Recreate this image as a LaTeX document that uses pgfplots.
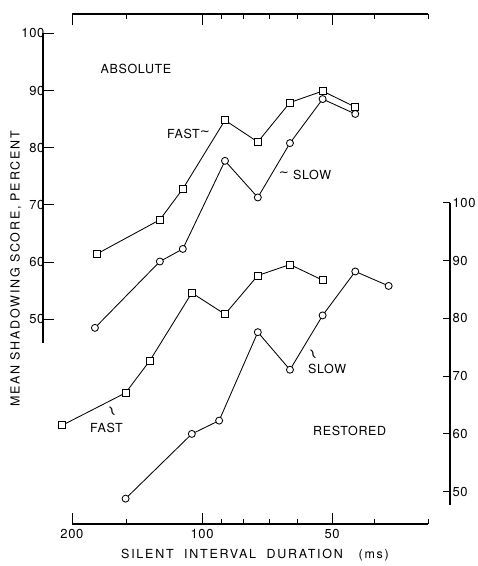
\documentclass[border=0pt]{standalone}
\usepackage{fontspec}
\setmainfont{TeX Gyre Heros}
\newfontfamily\lab[LetterSpace=5]{TeX Gyre Heros}
\newfontfamily\labw[LetterSpace=14]{TeX Gyre Heros}
\newfontfamily\djv{DejaVu Sans}
\usepackage{pgfplots}
\pgfplotsset{compat=1.18}

\pgfplotstableread{
x y
175.4 61.4
125.2 67.4
110.8 72.8
88.5 84.8
74.3 81.0
62.6 87.9
52.6 89.9
44.2 87.1
}\absfast
\pgfplotstableread{
x y
177.0 48.5
125.2 60.1
110.8 62.3
88.5 77.7
74.3 71.3
62.6 80.8
52.6 88.5
44.2 85.9
}\absslow
\pgfplotstableread{
x y
210.6 61.5
150.3 67.1
132.0 72.7
105.6 84.4
88.5 80.7
74.3 87.4
62.6 89.3
52.6 86.6
}\resfast
\pgfplotstableread{
x y
150.3 48.8
105.6 60.0
91.3 62.3
74.3 77.6
62.6 71.1
52.6 80.5
44.2 88.1
37.0 85.6
}\resslow

\pgfplotsset{
  myax/.style={scale only axis, clip=false,
    /pgf/number format/assume math mode=true,
    tick label style={font=\fontsize{13}{14}\selectfont\lab},
    axis line style={line width=1.1pt, black},
    every tick/.style={line width=0.9pt, black},
  },
  fastp/.style={black, line width=0.85pt, mark=square*, mark size=3.5pt, mark options={fill=white, line width=0.85pt, solid}},
  slowp/.style={black, line width=0.85pt, mark=*, mark size=3.5pt, mark options={fill=white, line width=0.85pt, solid}},
}

\begin{document}
\begin{tikzpicture}
\useasboundingbox (0pt,0pt) rectangle (478pt,566pt);
% frame x axis (top and bottom)
\begin{axis}[myax, at={(72pt,42pt)}, anchor=south west, width=356pt, height=510pt,
  xmode=log, x dir=reverse,
  xmin=30, xmax=200, ymin=0, ymax=1, ytick=\empty,
  axis line style={draw=none},
  xtick={200,100,50}, xticklabels={200,100,50},
  minor xtick={150,90,80,70,60,40,30},
  major tick length=11pt, minor tick length=5pt,
  tick align=inside, xtick pos=both, xticklabel pos=lower,
  xticklabel style={yshift=-2pt}]
\draw[line width=1.1pt] (rel axis cs:0,0) -- (rel axis cs:1,0);
\draw[line width=1.1pt] (rel axis cs:0,1) -- (rel axis cs:1,1);
\end{axis}

% left y axis (absolute)
\begin{axis}[myax, at={(43pt,222.7pt)}, anchor=south west, width=10pt, height=310pt,
  xmin=0, xmax=1, ymin=45.8, ymax=100,
  axis x line=none, axis y line*=left,
  ytick={50,60,...,100}, ytick align=inside, major tick length=11pt,
  yticklabel style={xshift=5pt}]
\end{axis}
% right y axis (restored)
\begin{axis}[myax, at={(440pt,61pt)}, anchor=south west, width=10pt, height=302.3pt,
  xmin=0, xmax=1, ymin=47.7, ymax=100,
  axis x line=none, axis y line*=right,
  ytick={50,60,...,100}, ytick align=inside, major tick length=7pt,
  yticklabel style={xshift=-1pt}]
\end{axis}

% absolute data
\begin{axis}[myax, hide axis, xmode=log, x dir=reverse, xmin=30, xmax=200, width=356pt,
  at={(72pt,222.7pt)}, anchor=south west, height=310pt,
  ymin=45.8, ymax=100]
\addplot[fastp] table[x=x,y=y] {\absfast};
\addplot[slowp] table[x=x,y=y] {\absslow};
\end{axis}
% restored data
\begin{axis}[myax, hide axis, xmode=log, x dir=reverse, xmin=30, xmax=200, width=356pt,
  at={(72pt,61pt)}, anchor=south west, height=302.3pt,
  ymin=47.7, ymax=100]
\addplot[fastp] table[x=x,y=y] {\resfast};
\addplot[slowp] table[x=x,y=y] {\resslow};
\end{axis}

% labels
\begin{scope}[every node/.style={font=\fontsize{12.5}{14}\selectfont\lab, inner sep=0pt}]
\node at (136pt,497pt) {ABSOLUTE};
\node[anchor=west] at (167pt,432pt) {FAST};
\node[font=\fontsize{12}{12}\selectfont\djv] at (205pt,433pt) {∼};
\node[font=\fontsize{12}{12}\selectfont\djv] at (284pt,392pt) {∼};
\node[anchor=west] at (293pt,391pt) {SLOW};
\node[anchor=west] at (90pt,138pt) {FAST};
\node[rotate=-65, font=\fontsize{15}{15}\selectfont\djv] at (111pt,154pt) {∼};
\node[anchor=west] at (308pt,197pt) {SLOW};
\node[rotate=-65, font=\fontsize{15}{15}\selectfont\djv] at (312pt,211pt) {∼};
\node[anchor=west] at (313pt,135pt) {RESTORED};
\node[font=\fontsize{12.5}{14}\selectfont\labw] at (255pt,11pt) {SILENT\ \ INTERVAL\ \ DURATION\ \ \ (ms)};
\node[rotate=90, font=\fontsize{12.5}{14}\selectfont\labw] at (16pt,297pt) {MEAN\ SHADOWING\ SCORE,\ PERCENT};
\end{scope}
\end{tikzpicture}
\end{document}
